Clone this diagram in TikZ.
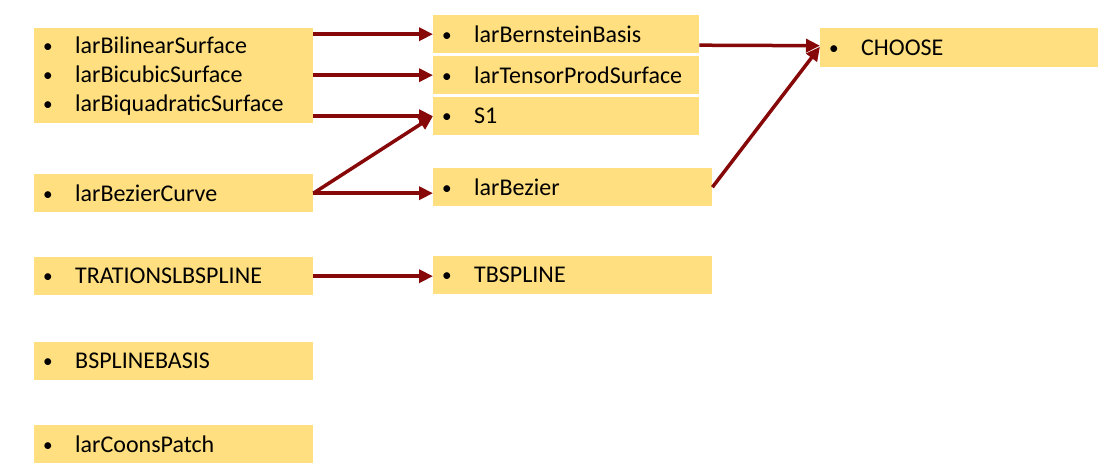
\documentclass[tikz,border=0pt]{standalone}
\usepackage{fontspec}
\setmainfont{Carlito}
\usetikzlibrary{arrows.meta,calc}
\definecolor{boxfill}{RGB}{255,223,128}
\definecolor{arrred}{RGB}{135,8,8}
\newcommand{\itm}[1]{\makebox[33pt][l]{\hspace{1pt}\raisebox{1pt}{\scalebox{0.8}{\textbullet}}}#1}
\begin{document}
\begin{tikzpicture}[x=1pt,y=-1pt,
  box/.style={fill=boxfill,draw=none,anchor=north west,inner xsep=8pt,inner ysep=0pt,
    minimum height=38pt,align=left,font=\fontsize{24}{29}\selectfont},
  arr/.style={draw=arrred,line width=3.5pt,-{Triangle[length=14pt,width=13pt]}}]
\useasboundingbox (0,0) rectangle (1109,473);
% left column
\node[box,minimum width=279pt,minimum height=95pt,text width=263pt] (big) at (34,28)
  {\itm{larBilinearSurface}\\\itm{larBicubicSurface}\\\itm{larBiquadraticSurface}};
\node[box,minimum width=279pt,text width=263pt] (bc) at (34,174) {\itm{larBezierCurve}};
\node[box,minimum width=279pt,text width=263pt] (tr) at (34,257) {\itm{TRATIONSLBSPLINE}};
\node[box,minimum width=279pt,text width=263pt] (bb) at (34,342) {\itm{BSPLINEBASIS}};
\node[box,minimum width=279pt,text width=263pt] (cp) at (34,425) {\itm{larCoonsPatch}};
% middle column
\node[box,minimum width=266pt,text width=250pt] (bern) at (433,15) {\itm{larBernsteinBasis}};
\node[box,minimum width=266pt,text width=250pt] (tens) at (433,56) {\itm{larTensorProdSurface}};
\node[box,minimum width=266pt,text width=250pt] (s1) at (433,97) {\itm{S1}};
\node[box,minimum width=279pt,text width=263pt] (bez) at (433,168) {\itm{larBezier}};
\node[box,minimum width=279pt,text width=263pt] (tb) at (433,256) {\itm{TBSPLINE}};
% right
\node[box,minimum width=278pt,text width=262pt,minimum height=39pt] (ch) at (820,28) {\itm{CHOOSE}};
% arrows
\draw[arr] (big.east |- bern.west) -- (bern.west);
\draw[arr] (big.east |- tens.west) -- (tens.west);
\draw[arr] (big.east |- s1.west) -- (s1.west);
\draw[arr] (bc.east) -- (s1.west);
\draw[arr] (bc.east) -- (bez.west |- bc.east);
\draw[arr] ($(bern.east)+(0,11)$) -- ($(ch.west)+(0,-2)$);
\draw[arr] (bez.east) -- ($(ch.west)+(0,-1)$);
\draw[arr] (tr.east) -- (tb.west |- tr.east);
\end{tikzpicture}
\end{document}
